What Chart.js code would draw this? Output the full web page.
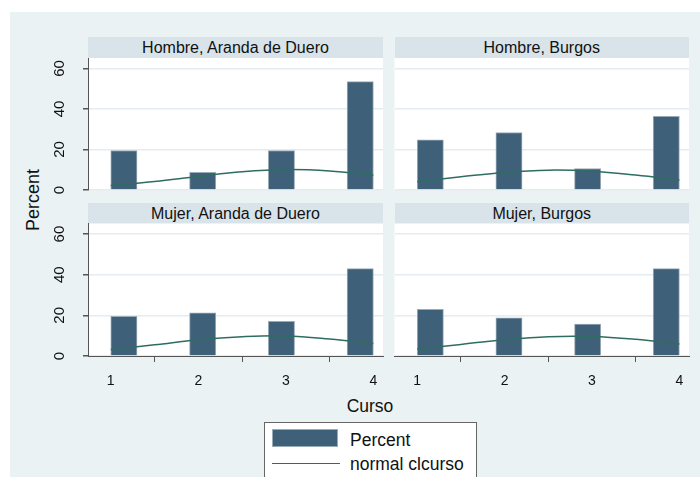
<!DOCTYPE html>
<html>
<head>
<meta charset="utf-8">
<script src="https://cdn.jsdelivr.net/npm/chart.js@4.4.1/dist/chart.umd.min.js"></script>
<style>
  body { margin: 0; background: #fff; font-family: "Liberation Sans", Arial, sans-serif; }
  #frame { position: relative; width: 700px; height: 477px; overflow: hidden; }
  #bg { position: absolute; left: 10px; top: 12px; right: 0; bottom: 0; background: #eaf2f3; }
  canvas { position: absolute; left: 0; top: 0; }
  .strip { position: absolute; height: 21px; line-height: 21px; background: #d8e4ea; color: #111;
           font-size: 16px; text-align: center; white-space: nowrap; }
  .label { position: absolute; color: #111; white-space: nowrap; transform: translate(-50%, -50%); }
  #ytitle { left: 33px; top: 200px; font-size: 18px; transform: translate(-50%, -50%) rotate(-90deg); }
  #xtitle { left: 370px; top: 406px; font-size: 17.5px; }
  #legend { position: absolute; left: 264px; top: 422px; width: 211px; height: 70px;
            background: #fff; border: 1px solid #666; }
  #legend .swatch { position: absolute; left: 7px; top: 6px; width: 66px; height: 18px;
                    background: #3e6079; border: 1px solid #9aabb8; box-sizing: border-box; }
  #legend .sample { position: absolute; left: 7px; top: 40px; width: 68px; height: 0;
                    border-top: 1.5px solid #2f6d60; }
  #legend .txt { position: absolute; left: 85px; font-size: 17.5px; color: #111; line-height: 20px; }
</style>
</head>
<body>
<div id="frame">
  <div id="bg"></div>
  <div id="ytitle" class="label">Percent</div>
  <div id="xtitle" class="label">Curso</div>
  <div id="legend">
    <div class="swatch"></div>
    <div class="txt" style="top:7px">Percent</div>
    <div class="sample"></div>
    <div class="txt" style="top:31px">normal clcurso</div>
  </div>
</div>
<script>
// histogram bins of curso (bin start and width)
const binStart = [1.0, 1.9, 2.8, 3.7];
const binWidth = 0.3;
const courseTicks = [1, 2, 3, 4];
const percentTicks = [0, 20, 40, 60];

// percent per bin
const pctHombreAranda = [19.5, 8.7, 19.5, 53.5];
const pctHombreBurgos = [24.8, 28.4, 10.6, 36.4];
const pctMujerAranda = [19.5, 21.3, 17.0, 43.0];
const pctMujerBurgos = [23.0, 18.8, 15.7, 43.0];

// normal curve overlay
const curveX = [1, 1.5, 2, 2.5, 3, 3.5, 4];
const normHombreAranda = [2.2, 4.2, 6.7, 9.0, 10.1, 9.4, 7.3];
const normHombreBurgos = [4.1, 6.5, 8.7, 9.8, 9.3, 7.4, 4.9];
const normMujerAranda = [3.2, 5.5, 8.0, 9.5, 9.9, 8.4, 6.1];
const normMujerBurgos = [3.4, 5.7, 8.0, 9.5, 9.6, 8.2, 5.9];

const X_MIN = 0.74, X_MAX = 4.11, Y_MAX = 65.2;
const W = 700, H = 477;
const FONT = '"Liberation Sans", Arial, sans-serif';

const panels = [
  { title: 'Hombre, Aranda de Duero', pct: pctHombreAranda, norm: normHombreAranda,
    left: 88, top: 58, right: 383, bottom: 190, yAxis: true, xAxis: false },
  { title: 'Hombre, Burgos', pct: pctHombreBurgos, norm: normHombreBurgos,
    left: 394.5, top: 58, right: 689, bottom: 190, yAxis: false, xAxis: false },
  { title: 'Mujer, Aranda de Duero', pct: pctMujerAranda, norm: normMujerAranda,
    left: 88, top: 223.5, right: 383, bottom: 356, yAxis: true, xAxis: true },
  { title: 'Mujer, Burgos', pct: pctMujerBurgos, norm: normMujerBurgos,
    left: 394.5, top: 223.5, right: 689, bottom: 356, yAxis: false, xAxis: true }
];

// white plot region behind the bars
const plotBackground = {
  id: 'plotBackground',
  beforeDraw(chart) {
    const a = chart.chartArea, ctx = chart.ctx;
    ctx.save();
    ctx.fillStyle = '#ffffff';
    ctx.fillRect(a.left, a.top, a.right - a.left, a.bottom - a.top);
    ctx.restore();
  }
};

const frame = document.getElementById('frame');

panels.forEach(p => {
  const strip = document.createElement('div');
  strip.className = 'strip';
  strip.style.left = p.left + 'px';
  strip.style.top = (p.top - 21) + 'px';
  strip.style.width = (p.right - p.left) + 'px';
  strip.textContent = p.title;
  frame.appendChild(strip);

  const canvas = document.createElement('canvas');
  canvas.width = W;
  canvas.height = H;
  frame.appendChild(canvas);

  const yW = p.yAxis ? 40 : 0;
  const xH = p.xAxis ? 50 : 0;
  const barPx = (p.right - p.left) * binWidth / (X_MAX - X_MIN);

  new Chart(canvas.getContext('2d'), {
    type: 'bar',
    data: {
      datasets: [
        {
          type: 'line',
          data: curveX.map((x, i) => ({ x: x, y: p.norm[i] })),
          borderColor: '#2f6d60',
          borderWidth: 1.5,
          pointRadius: 0,
          tension: 0.4,
          order: 0
        },
        {
          type: 'bar',
          data: binStart.map((s, i) => ({ x: s + binWidth / 2, y: p.pct[i] })),
          backgroundColor: '#3e6079',
          borderColor: '#9aabb8',
          borderWidth: 1,
          borderSkipped: 'bottom',
          barThickness: barPx,
          order: 1
        }
      ]
    },
    options: {
      responsive: false,
      animation: false,
      devicePixelRatio: 1,
      layout: {
        padding: { left: p.left - yW, top: p.top, right: W - p.right, bottom: H - p.bottom - xH }
      },
      plugins: { legend: { display: false }, tooltip: { enabled: false } },
      scales: {
        x: {
          type: 'linear',
          min: X_MIN,
          max: X_MAX,
          offset: false,
          display: p.xAxis,
          afterBuildTicks: s => { s.ticks = courseTicks.map(v => ({ value: v })); },
          afterFit: s => { s.height = xH; },
          grid: { drawOnChartArea: false, tickLength: 6, tickColor: '#555', lineWidth: 1 },
          border: { color: '#555', width: 1 },
          ticks: { color: '#111', padding: 11, font: { family: FONT, size: 14 }, maxRotation: 0 }
        },
        y: {
          min: 0,
          max: Y_MAX,
          afterBuildTicks: s => { s.ticks = percentTicks.map(v => ({ value: v })); },
          afterFit: s => { s.width = yW; },
          grid: {
            color: '#e4ecef',
            lineWidth: 1.5,
            drawTicks: p.yAxis,
            tickLength: p.yAxis ? 5 : 0,
            tickColor: '#555'
          },
          border: { display: p.yAxis, color: '#555', width: 1 },
          ticks: {
            display: p.yAxis,
            color: '#111',
            padding: 15,
            minRotation: 90,
            maxRotation: 90,
            crossAlign: 'center',
            font: { family: FONT, size: 15 }
          }
        }
      }
    },
    plugins: [plotBackground]
  });
});
</script>
</body>
</html>
